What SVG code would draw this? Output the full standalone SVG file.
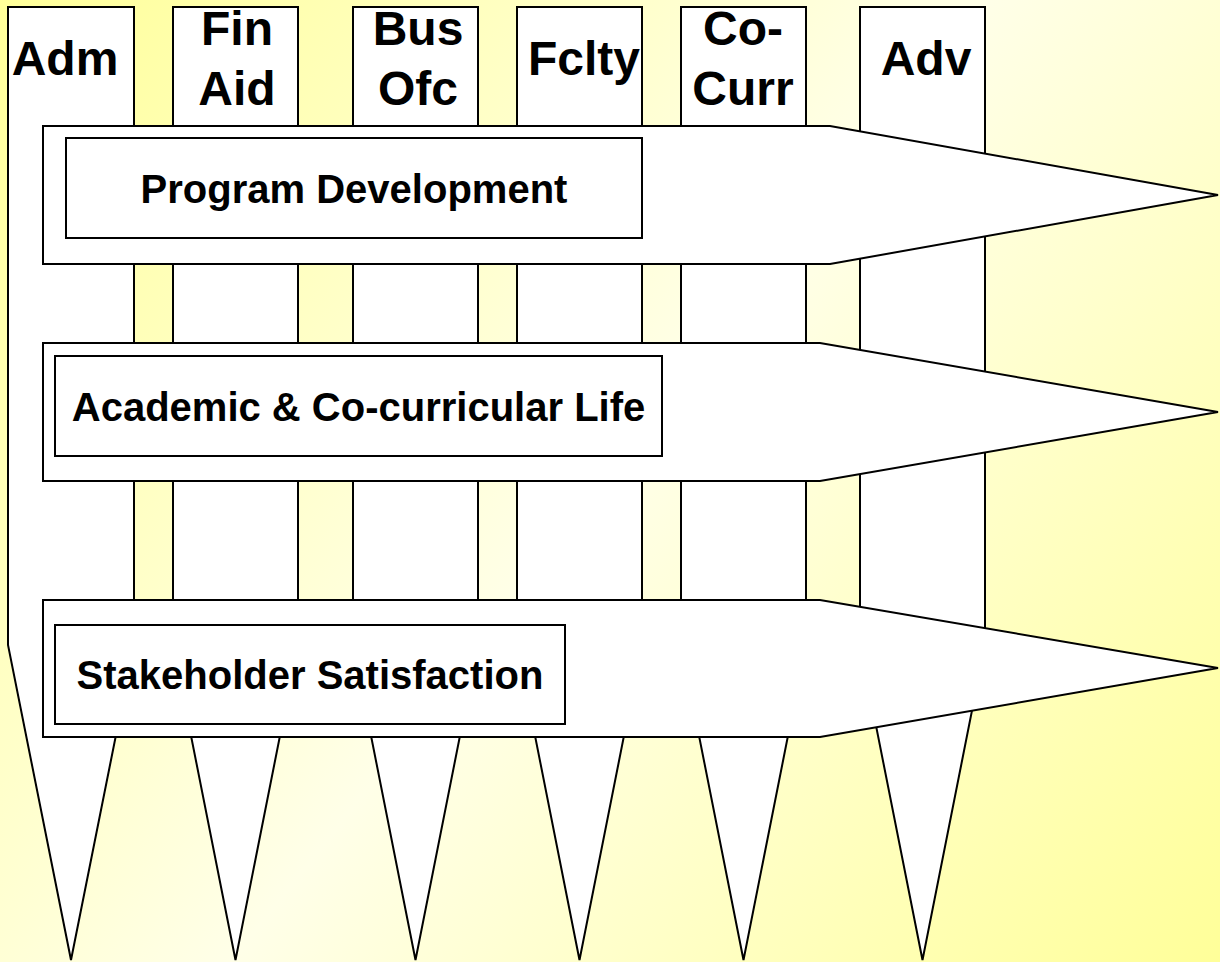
<svg xmlns="http://www.w3.org/2000/svg" width="1220" height="962" viewBox="0 0 1220 962">
<defs>
<linearGradient id="bg" gradientUnits="userSpaceOnUse" x1="0" y1="0" x2="1220" y2="962">
<stop offset="0" stop-color="#FFFF99"/>
<stop offset="0.5" stop-color="#FFFFE8"/>
<stop offset="1" stop-color="#FFFF99"/>
</linearGradient>
<style>
.shape{fill:#FFFFFF;stroke:#000000;stroke-width:2;stroke-linejoin:miter}
.col{font-family:"Liberation Sans",Arial,sans-serif;font-weight:bold;font-size:48px;fill:#000000;text-anchor:middle}
.lbl{font-family:"Liberation Sans",Arial,sans-serif;font-weight:bold;font-size:40px;fill:#000000;text-anchor:middle}
</style>
</defs>
<rect x="0" y="0" width="1220" height="962" fill="url(#bg)"/>
<g id="columns">
<g id="col-adm">
<polygon class="shape" points="8,7 134,7 134,645 71,960 8,645"/>
<text class="col" x="65" y="75">Adm</text>
</g>
<g id="col-finaid">
<polygon class="shape" points="173,7 298,7 298,645 235.5,960 173,645"/>
<text class="col" x="237" y="45">Fin</text>
<text class="col" x="237" y="105">Aid</text>
</g>
<g id="col-busofc">
<polygon class="shape" points="353,7 478,7 478,645 415.5,960 353,645"/>
<text class="col" x="418" y="45">Bus</text>
<text class="col" x="418" y="105">Ofc</text>
</g>
<g id="col-fclty">
<polygon class="shape" points="517,7 642,7 642,645 579.5,960 517,645"/>
<text class="col" x="584" y="75">Fclty</text>
</g>
<g id="col-cocurr">
<polygon class="shape" points="681,7 806,7 806,645 743.5,960 681,645"/>
<text class="col" x="743" y="45">Co-</text>
<text class="col" x="743" y="105">Curr</text>
</g>
<g id="col-adv">
<polygon class="shape" points="860,7 985,7 985,645 922.5,960 860,645"/>
<text class="col" x="926" y="75">Adv</text>
</g>
</g>
<g id="arrow-program">
<polygon class="shape" points="43,126 830,126 1218,195 830,264 43,264"/>
<rect class="shape" x="66" y="138" width="576" height="100"/>
<text class="lbl" x="354" y="203">Program Development</text>
</g>
<g id="arrow-academic">
<polygon class="shape" points="43,343 820,343 1218,412 820,481 43,481"/>
<rect class="shape" x="55" y="356" width="607" height="100"/>
<text class="lbl" x="358.5" y="421">Academic &amp; Co-curricular Life</text>
</g>
<g id="arrow-stakeholder">
<polygon class="shape" points="43,600 820,600 1218,668 820,737 43,737"/>
<rect class="shape" x="55" y="625" width="510" height="99"/>
<text class="lbl" x="310" y="689">Stakeholder Satisfaction</text>
</g>
<g id="connectors"/>
</svg>
